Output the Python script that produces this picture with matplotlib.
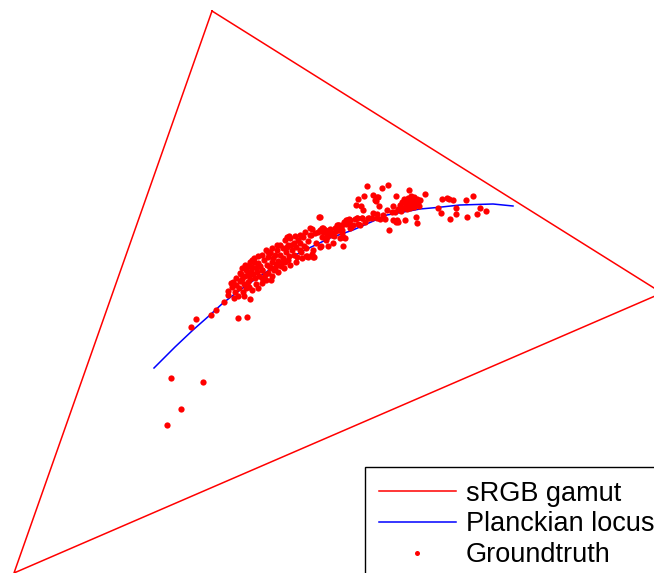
import matplotlib
matplotlib.use("Agg")
import matplotlib.pyplot as plt
import numpy as np

# ── 1. Data (image-plane coordinates, y grows downward) ──────────────────────
gamut_x = [212, 662, 14, 212]
gamut_y = [11, 293, 573, 11]

locus_x = [154, 175, 193, 210, 223, 240, 260, 280, 305, 330, 353, 387, 420, 437, 460, 493, 513]
locus_y = [368, 347, 330, 315, 303, 290, 276, 263, 250, 238, 230, 215, 209, 207.5, 205, 204, 206]

gt_points = [
    # isolated low-CCT samples
    (167, 425), (171, 378), (181, 409), (203, 382),
    (191, 327), (196, 319), (211, 315), (216, 310), (224, 302), (238, 318), (247, 317), (250, 299),
    # lower band
    (228, 291), (232, 287), (228, 295), (231, 283), (235, 292), (236, 285), (239, 288), (240, 281),
    (242, 279), (244, 284), (241, 274), (245, 276), (246, 270), (248, 282), (249, 275), (250, 279),
    (251, 271), (252, 267), (253, 274), (254, 262), (255, 278), (256, 268), (257, 272), (258, 263),
    (259, 276), (260, 266), (252, 260), (254, 258), (256, 284), (246, 288), (238, 296), (234, 298),
    (243, 292), (249, 287), (271, 280), (270, 253),
    (245, 265), (250, 262), (258, 256), (262, 255), (266, 250), (252, 290), (258, 288), (262, 283),
    (266, 280), (262, 278), (248, 266), (242, 268), (236, 278), (233, 282), (244, 296),
    # middle band
    (262, 270), (264, 260), (265, 275), (267, 265), (268, 257), (270, 268), (270, 252), (272, 262),
    (273, 258), (274, 270), (275, 255), (276, 264), (277, 250), (278, 261), (280, 255), (281, 266),
    (283, 248), (283, 258), (285, 262), (286, 252), (287, 237), (288, 245), (289, 256), (291, 245),
    (292, 250), (294, 243), (296, 247), (297, 257), (298, 240), (300, 243), (301, 252), (303, 237),
    (304, 246), (306, 248), (307, 256), (308, 241), (310, 228), (311, 235), (313, 250), (313, 257),
    (315, 233), (316, 243), (318, 232), (319, 217), (320, 247), (321, 246), (322, 228), (325, 230),
    (327, 237), (328, 233), (268, 252), (277, 245), (287, 247), (312, 229), (314, 257), (308, 257),
    (240, 273), (248, 272), (257, 267), (262, 270), (270, 267), (277, 265), (283, 262),
    (272, 248), (280, 245), (285, 240), (290, 238), (295, 236), (300, 235), (305, 232),
    (272, 276), (278, 272), (284, 268), (290, 265), (296, 262), (302, 258), (306, 256), (312, 254),
    (268, 273), (275, 268), (288, 260), (294, 255), (300, 250), (289, 236), (302, 236), (310, 235),
    # right-middle band
    (323, 232), (326, 240), (330, 229), (332, 233), (334, 236), (336, 231), (339, 225), (340, 238),
    (342, 230), (344, 222), (345, 238), (347, 220), (349, 223), (351, 227), (353, 225), (355, 219),
    (357, 218), (358, 224), (360, 225), (362, 218), (343, 246), (333, 243), (328, 246),
    (320, 217), (323, 228), (332, 235), (327, 235), (322, 237), (335, 228), (338, 225), (342, 225),
    (340, 230), (343, 237), (346, 224), (349, 219), (350, 228), (365, 222), (368, 218), (372, 218),
    (377, 218), (383, 215), (393, 220), (398, 222), (346, 220), (348, 222), (350, 220),
    (320, 230), (325, 230), (330, 232), (337, 225), (342, 233),
    # upper-right scatter
    (367, 186), (388, 185), (382, 188), (409, 190), (425, 194), (396, 196), (373, 195), (377, 197),
    (375, 200), (378, 197), (364, 196), (358, 199), (376, 201), (356, 205), (361, 206), (379, 206),
    (393, 206), (363, 210), (387, 210), (392, 212), (373, 213), (377, 214), (357, 218), (362, 218),
    (369, 218), (380, 219), (385, 219), (397, 220), (405, 220), (416, 217), (417, 223), (389, 230),
    (396, 222),
    # dense cluster near 6500K
    (400, 205), (402, 202), (404, 199), (405, 207), (406, 203), (408, 198), (409, 201), (410, 205),
    (411, 196), (412, 200), (413, 203), (414, 197), (415, 201), (416, 204), (417, 199), (418, 202),
    (419, 206), (420, 200), (403, 208), (398, 209), (401, 211), (407, 209), (395, 212), (410, 208),
    (414, 207),
    # high-CCT tail
    (442, 199), (447, 198), (449, 199), (453, 200), (466, 200), (473, 196), (438, 208), (441, 213),
    (456, 208), (456, 214), (450, 219), (467, 217), (477, 214), (480, 208), (486, 211),
]

gt_x = [p[0] for p in gt_points]
gt_y = [p[1] for p in gt_points]

# ── 2. Plot ──────────────────────────────────────────────────────────────────
plt.rcParams['font.family'] = ['Liberation Sans', 'DejaVu Sans']

fig = plt.figure(figsize=(6.54, 5.73), dpi=100)
ax = fig.add_axes([0, 0, 1, 1])
ax.set_xlim(0, 654)
ax.set_ylim(573, 0)
ax.axis('off')

ax.plot(gamut_x, gamut_y, color=(1, 0, 0), linewidth=1.1, label='sRGB gamut')
ax.plot(locus_x, locus_y, color=(0, 0, 1), linewidth=1.1, label='Planckian locus')
ax.plot(gt_x, gt_y, linestyle='none', marker='o', markersize=4.5,
        markeredgewidth=0, color=(1, 0, 0), label='Groundtruth')

leg = ax.legend(loc='upper left', bbox_to_anchor=(365 / 654, 1 - 467 / 573),
                bbox_transform=fig.transFigure, borderaxespad=0,
                fontsize=19.5, numpoints=1, handlelength=2.85, handletextpad=0.38,
                borderpad=0.5, labelspacing=0.18, fancybox=False, framealpha=1,
                markerscale=0.8)
leg.get_frame().set_edgecolor('black')
leg.get_frame().set_linewidth(1.0)

plt.savefig('out.png', dpi=100)
plt.close()
